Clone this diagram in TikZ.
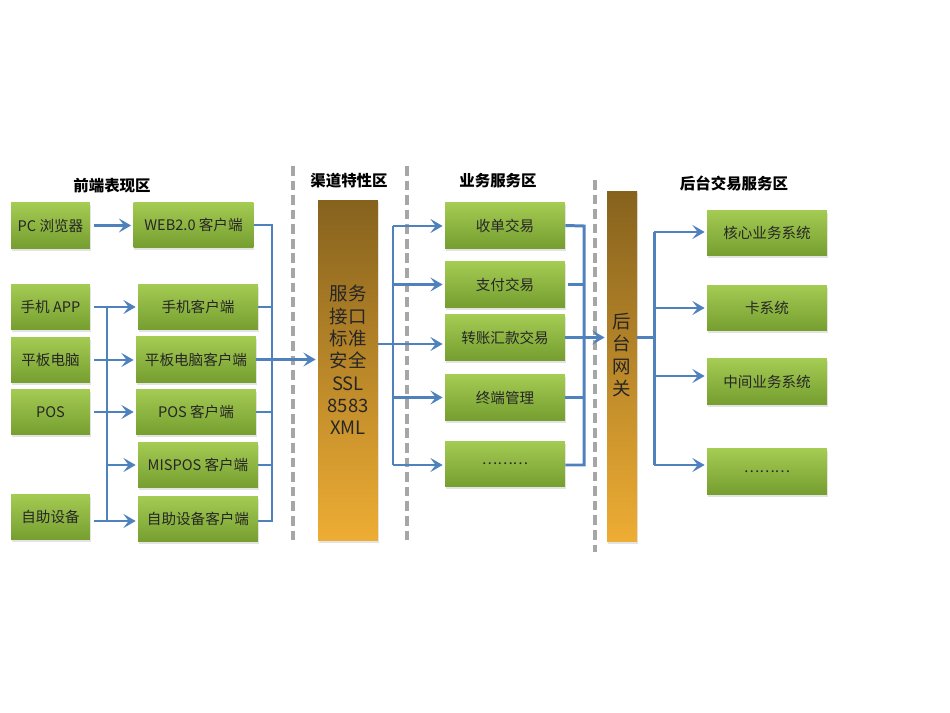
\documentclass[tikz,border=0pt]{standalone}
\usepackage{fontspec}
\newfontfamily\cjk{Noto Sans CJK SC}
\usepackage{xcolor}
\usetikzlibrary{arrows.meta}
\usetikzlibrary{shadows}
\definecolor{greentop}{RGB}{164,203,82}
\definecolor{greenbot}{RGB}{118,158,48}
\definecolor{bartop}{RGB}{134,98,30}
\definecolor{barbot}{RGB}{238,173,52}
\definecolor{linkblue}{RGB}{79,129,189}
\definecolor{zonegray}{RGB}{166,166,166}
\definecolor{boxtext}{RGB}{38,38,38}
\def\leftw{1.58cm}
\def\sidew{2.40cm}
\def\boxh{0.91cm}

\tikzset{
	greenbox/.style={top color=greentop, bottom color=greenbot, text=boxtext,
		minimum height=\boxh, inner sep=0pt, font=\cjk\fontsize{8.3}{9}\selectfont,
		drop shadow={opacity=0.22, shadow xshift=0.5pt, shadow yshift=-1.3pt}},
	barbox/.style={top color=bartop, bottom color=barbot, inner sep=0pt,
		drop shadow={opacity=0.22, shadow xshift=0.5pt, shadow yshift=-1.3pt}},
	bartext/.style={text=boxtext, align=center, font=\cjk\fontsize{10.5}{12.7}\selectfont},
	zonetitle/.style={font=\cjk\bfseries\fontsize{8.8}{10}\selectfont},
	zone/.style={draw=zonegray, line width=2pt, dash pattern=on 5.5pt off 2.8pt},
	link/.style={draw=linkblue, line width=1.7pt},
	arr/.style={link, -{Stealth[length=7pt,width=8pt,inset=3pt]}, shorten >=0.04cm},
	gap/.style={shorten <=0.08cm},
}

\begin{document}
\begin{tikzpicture}[x=0.02cm, y=-0.02cm]
	\useasboundingbox (0,0) rectangle (950,713);

	% zones
	\draw[zone] (293,166) -- (293,541);
	\draw[zone] (407,166) -- (407,541);
	\draw[zone] (595,180) -- (595,552);
	\node[zonetitle] (fronttitle) at (112,186) {前端表现区};
	\node[zonetitle] (chantitle) at (349,181) {渠道特性区};
	\node[zonetitle] (bizitle) at (498,181) {业务服务区};
	\node[zonetitle] (backtitle) at (734,183) {后台交易服务区};

	% front end
	\node[greenbox, minimum width=\leftw] (pc) at (50.5,225.5) {PC 浏览器};
	\node[greenbox, minimum width=\leftw] (app) at (50.5,307) {手机 APP};
	\node[greenbox, minimum width=\leftw] (pad) at (50.5,360) {平板电脑};
	\node[greenbox, minimum width=\leftw] (pos) at (50.5,412) {POS};
	\node[greenbox, minimum width=\leftw] (self) at (50.5,517) {自助设备};

	\node[greenbox, minimum width=\sidew] (web) at (193.5,225) {WEB2.0 客户端};
	\node[greenbox, minimum width=\sidew] (appc) at (198,307) {手机客户端};
	\node[greenbox, minimum width=\sidew] (padc) at (196,359.5) {平板电脑客户端};
	\node[greenbox, minimum width=\sidew] (posc) at (196,412) {POS 客户端};
	\node[greenbox, minimum width=\sidew] (misc) at (198,465) {MISPOS 客户端};
	\node[greenbox, minimum width=\sidew] (selfc) at (198,519) {自助设备客户端};

	% channel
	\node[barbox, minimum width=1.2cm, minimum height=6.82cm] (chan) at (348,370.5) {};
	\node[bartext] (chantext) at (348,360) {服务\\接口\\标准\\安全\\SSL\\8583\\XML};

	% business
	\node[greenbox, minimum width=\sidew] (acq) at (505,225.5) {收单交易};
	\node[greenbox, minimum width=\sidew] (pay) at (505,284.5) {支付交易};
	\node[greenbox, minimum width=\sidew] (xfer) at (505,337.5) {转账汇款交易};
	\node[greenbox, minimum width=\sidew] (term) at (505,397.5) {终端管理};
	\node[greenbox, minimum width=\sidew] (bizmore) at (505,464) {………};

	% gateway
	\node[barbox, minimum width=0.6cm, minimum height=7.02cm] (gw) at (622,366.5) {};
	\node[bartext] (gwtext) at (622,355) {后\\台\\网\\关};

	% back end
	\node[greenbox, minimum width=\sidew] (core) at (767,233) {核心业务系统};
	\node[greenbox, minimum width=\sidew] (card) at (767,308) {卡系统};
	\node[greenbox, minimum width=\sidew] (mid) at (767,381.5) {中间业务系统};
	\node[greenbox, minimum width=\sidew] (backmore) at (767,471.5) {………};

	% front end links
	\coordinate (lbt) at (107,307);
	\coordinate (lbb) at (107,521);
	\draw[link] (lbt) -- (lbb);
	\draw[arr, gap] (pc.east) -- (web.west |- pc.east);
	\draw[arr, gap] (app.east) -- (appc.west);
	\draw[arr, gap] (pad.east) -- (padc.west |- pad.east);
	\draw[arr, gap] (pos.east) -- (posc.west);
	\draw[arr] (lbt |- misc) -- (misc.west);
	\draw[arr, gap] (self.east |- lbb) -- (selfc.west |- lbb);

	\coordinate (rbt) at (272,225);
	\coordinate (rbb) at (272,521);
	\draw[link] (web.east) -- (rbt) -- (rbb) -- (selfc.east |- rbb);
	\draw[link] (appc.east) -- (rbt |- appc);
	\draw[link] (posc.east) -- (rbt |- posc);
	\draw[link] (misc.east) -- (rbt |- misc);
	\draw[arr] (padc.east) -- (chan.west |- padc.east);

	% channel to business
	\coordinate (mbt) at (393,226);
	\coordinate (mbb) at (393,465);
	\draw[link] (mbt) -- (mbb);
	\draw[arr] (chan.east |- 0,344) -- (xfer.west |- 0,344);
	\draw[arr] (mbt) -- (acq.west |- mbt);
	\draw[arr] (mbt |- pay) -- (pay.west);
	\draw[arr] (mbt |- term) -- (term.west);
	\draw[arr] (mbb) -- (bizmore.west |- mbb);

	% business to gateway
	\coordinate (sbt) at (584,226);
	\coordinate (sbb) at (584,465);
	\draw[link] (acq.east) -- (sbt) -- (sbb) -- (bizmore.east |- sbb);
	\draw[link, shorten <=0.06cm] (pay.east) -- (sbt |- pay);
	\draw[link] (term.east) -- (sbt |- term);
	\draw[arr] (xfer.east) -- (gw.west |- xfer.east);

	% gateway to back end
	\coordinate (gbt) at (654,232);
	\coordinate (gbb) at (654,465);
	\draw[link] (gw.east |- xfer) -- (gbt |- xfer);
	\draw[link] (gbt) -- (gbb);
	\draw[arr] (gbt) -- (core.west |- gbt);
	\draw[arr] (gbt |- card) -- (card.west);
	\draw[arr] (gbt |- 0,376) -- (mid.west |- 0,376);
	\draw[arr] (gbb) -- (backmore.west |- gbb);
\end{tikzpicture}
\end{document}
